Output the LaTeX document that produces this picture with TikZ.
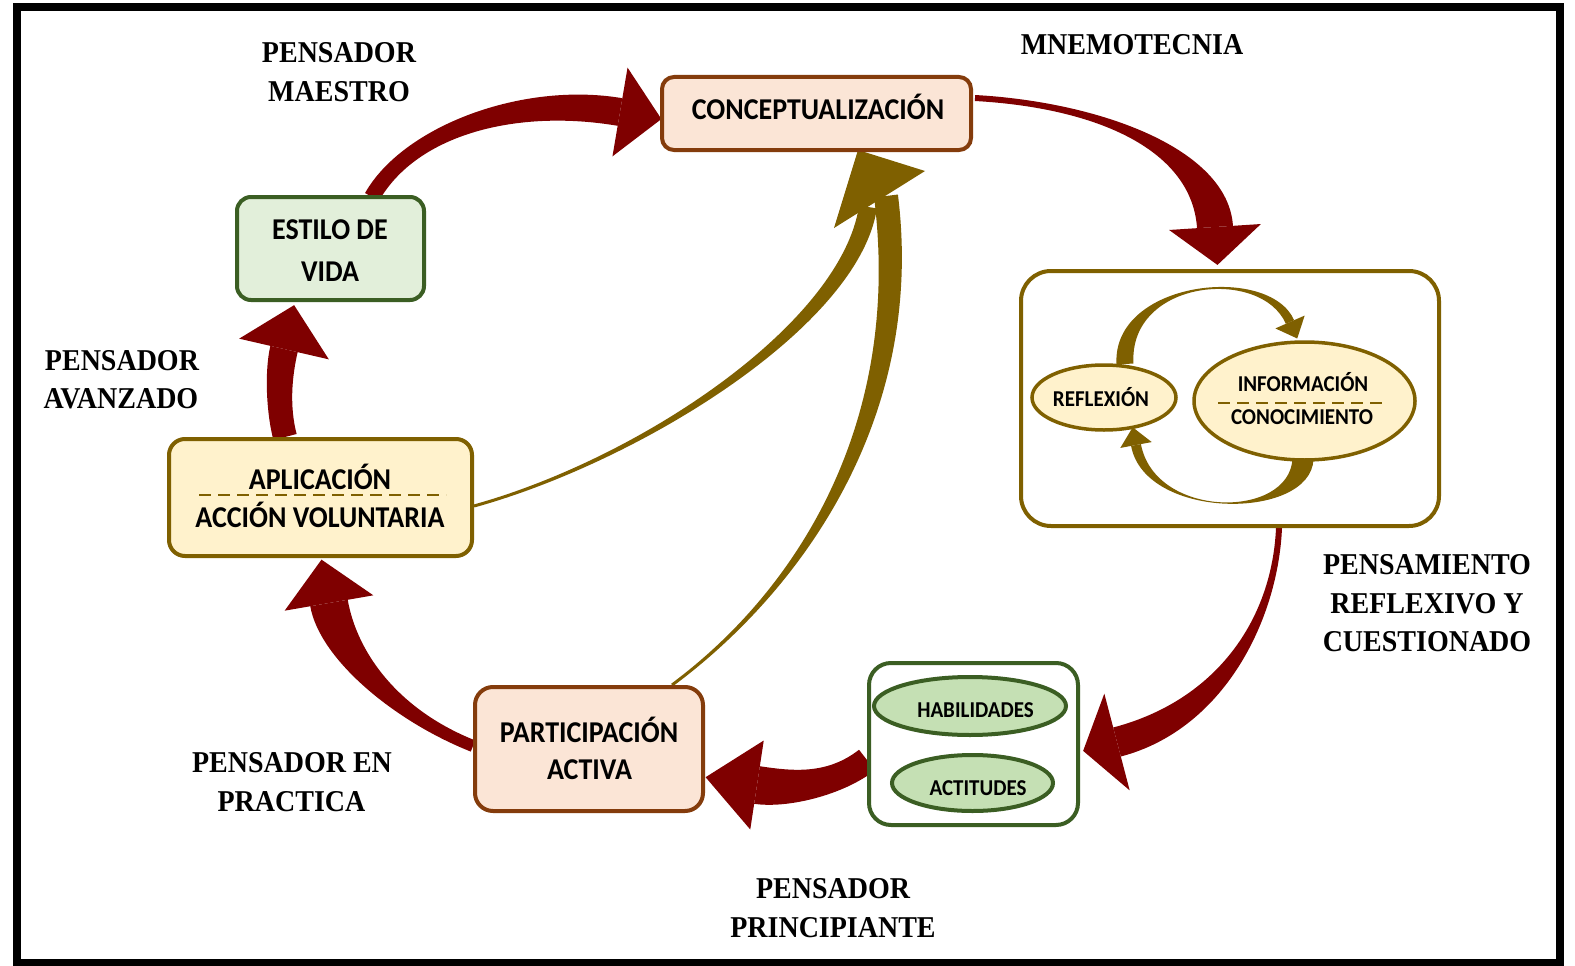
\documentclass[tikz,border=0pt]{standalone}
\usepackage{fontspec}
\usetikzlibrary{calc,shapes.geometric}
\newfontfamily\tnrfont{Liberation Serif}
\newfontfamily\calfont{Carlito}
\definecolor{dred}{HTML}{7F0000}
\definecolor{oliv}{HTML}{7F6000}
\definecolor{peach}{HTML}{FBE5D6}
\definecolor{brn}{HTML}{843C0C}
\definecolor{lgreen}{HTML}{E2EFDA}
\definecolor{dgreen}{HTML}{3B5E23}
\definecolor{lyellow}{HTML}{FFF2CC}
\definecolor{mgreen}{HTML}{C5E0B4}
\pgfdeclarelayer{bg}
\pgfsetlayers{bg,main}
% tapered shaft along a cubic Bezier: P0 P1 P2 P3, half width start, half width end, colour
\newcommand{\taper}[7]{%
 \fill[#7] ($(#1)!#5!90:(#2)$) .. controls ($(#2)!#5!-90:(#1)$) and ($(#3)!#6!90:(#4)$) .. ($(#4)!#6!-90:(#3)$)
 -- ($(#4)!#6!90:(#3)$) .. controls ($(#3)!#6!-90:(#4)$) and ($(#2)!#5!90:(#1)$) .. ($(#1)!#5!-90:(#2)$) -- cycle;}
% arrow head at P3 pointing away from P2: P2 P3 half width length colour
\newcommand{\ahead}[5]{%
 \fill[#5] ($(#2)!#3!90:(#1)$) -- ($(#2)!#4!180:(#1)$) -- ($(#2)!#3!-90:(#1)$) -- cycle;}
\newcommand{\vs}[1]{\scalebox{1}[1.08]{#1}}
\tikzset{
 box/.style={draw, rounded corners=#1, line width=4pt, inner sep=0pt},
 ell/.style={draw, ellipse, line width=4pt, inner sep=0pt},
 lbl/.style={font=\tnrfont\bfseries\fontsize{28}{30}\selectfont, anchor=base, inner sep=0pt},
 btxt/.style={font=\calfont\bfseries\fontsize{28}{30}\selectfont, anchor=base, inner sep=0pt},
 stxt/.style={font=\calfont\bfseries\fontsize{21}{23}\selectfont, anchor=base, inner sep=0pt},
 sep/.style={draw=oliv, line width=2.5pt, dash pattern=on 12pt off 7pt}
}
\begin{document}
\begin{tikzpicture}[x=1pt,y=-1pt]
\useasboundingbox (0,0) rectangle (1575,966);
\draw[line width=8pt] (16.5,7) rectangle (1559.5,963);

% boxes
\node[box=12pt, draw=brn, fill=peach, minimum width=309pt, minimum height=73pt] (concept) at (816.5,113.5) {};
\node[box=14pt, draw=dgreen, fill=lgreen, minimum width=187pt, minimum height=103pt] (estilo) at (330.5,248.5) {};
\node[box=16pt, draw=oliv, fill=lyellow, minimum width=303pt, minimum height=117pt] (aplic) at (320.5,497.5) {};
\node[box=18pt, draw=brn, fill=peach, minimum width=228pt, minimum height=124pt] (partic) at (589,749) {};
\node[box=22pt, draw=dgreen, fill=white, minimum width=209pt, minimum height=162pt] (grp) at (973.5,744) {};
\node[box=30pt, draw=oliv, minimum width=418pt, minimum height=255pt] (refbox) at (1230,398.5) {};

% coordinates of the big arrows
\coordinate (a1p0) at (372,197); \coordinate (a1p1) at (410,130); \coordinate (a1p2) at (520,95); \coordinate (a1p3) at (620,112);
\coordinate (a2p0) at (975,98); \coordinate (a2p1) at (1100,105); \coordinate (a2p2) at (1210,150); \coordinate (a2p3) at (1215,227);
\coordinate (a3p0) at (1279,528); \coordinate (a3p1) at (1275,620); \coordinate (a3p2) at (1220,715); \coordinate (a3p3) at (1117,742);
\coordinate (a4p0) at (867,760); \coordinate (a4p1) at (835,785); \coordinate (a4p2) at (790,790); \coordinate (a4p3) at (757,785);
\coordinate (a5p0) at (473,746); \coordinate (a5p1) at (395,715); \coordinate (a5p2) at (338,655); \coordinate (a5p3) at (329,603);
\coordinate (a6p0) at (285,437); \coordinate (a6p1) at (278,410); \coordinate (a6p2) at (278,375); \coordinate (a6p3) at (284,349);
\coordinate (b1p0) at (474,506); \coordinate (b1p1) at (640,460); \coordinate (b1p2) at (850,325); \coordinate (b1p3) at (868,207);
\coordinate (b2p0) at (672,685); \coordinate (b2p1) at (800,590); \coordinate (b2p2) at (914,420); \coordinate (b2p3) at (886,196);
\coordinate (oht) at (858,150); \coordinate (ohr) at (925,171); \coordinate (ohl) at (834,228);

\begin{pgfonlayer}{bg}
\fill[white] (0,0) rectangle (1575,966);
\taper{a1p0}{a1p1}{a1p2}{a1p3}{8pt}{14pt}{dred}
\ahead{a1p2}{a1p3}{45pt}{42pt}{dred}
\taper{a2p0}{a2p1}{a2p2}{a2p3}{3pt}{18pt}{dred}
\ahead{a2p2}{a2p3}{46pt}{38pt}{dred}
\taper{a3p0}{a3p1}{a3p2}{a3p3}{3pt}{15pt}{dred}
\ahead{a3p2}{a3p3}{50pt}{35pt}{dred}
\taper{a4p0}{a4p1}{a4p2}{a4p3}{13pt}{19pt}{dred}
\ahead{a4p2}{a4p3}{45pt}{52pt}{dred}
\taper{a5p0}{a5p1}{a5p2}{a5p3}{6pt}{19pt}{dred}
\ahead{a5p2}{a5p3}{45pt}{44pt}{dred}
\taper{a6p0}{a6p1}{a6p2}{a6p3}{12pt}{14pt}{dred}
\ahead{a6p2}{a6p3}{46pt}{45pt}{dred}
\taper{b1p0}{b1p1}{b1p2}{b1p3}{1.5pt}{9pt}{oliv}
\taper{b2p0}{b2p1}{b2p2}{b2p3}{1.5pt}{12pt}{oliv}
\fill[oliv] (oht) -- (ohr) -- (ohl) -- cycle;
\end{pgfonlayer}

% inner cycle arrows
\coordinate (c1p0) at (1125,364); \coordinate (c1p1) at (1120,280); \coordinate (c1p2) at (1265,265); \coordinate (c1p3) at (1290,322);
\coordinate (c2p0) at (1303,459); \coordinate (c2p1) at (1300,520); \coordinate (c2p2) at (1150,520); \coordinate (c2p3) at (1136,445);
\taper{c1p0}{c1p1}{c1p2}{c1p3}{8.5pt}{4.5pt}{oliv}
\ahead{c1p2}{c1p3}{16pt}{18pt}{oliv}
\taper{c2p0}{c2p1}{c2p2}{c2p3}{10.5pt}{5pt}{oliv}
\ahead{c2p2}{c2p3}{16pt}{18pt}{oliv}

% ellipses
\node[ell, draw=dgreen, fill=mgreen, minimum width=192pt, minimum height=58pt] (habil) at (970,706) {};
\node[ell, draw=dgreen, fill=mgreen, minimum width=161pt, minimum height=56pt] (actit) at (972.5,783) {};
\node[ell, draw=oliv, fill=lyellow, line width=3.5pt, minimum width=144pt, minimum height=65pt] (reflex) at (1104,397.5) {};
\node[ell, draw=oliv, fill=lyellow, line width=3.5pt, minimum width=221pt, minimum height=118pt] (inform) at (1304.5,401) {};

% box texts
\node[btxt] (t-concept) at (818,119) {\vs{CONCEPTUALIZACIÓN}};
\node[btxt] (t-estilo1) at (330,239) {\vs{ESTILO DE}};
\node[btxt] (t-estilo2) at (330,281) {\vs{VIDA}};
\node[btxt] (t-aplic1) at (320,489) {\vs{APLICACIÓN}};
\node[btxt] (t-aplic2) at (320,527) {\vs{ACCIÓN VOLUNTARIA}};
\node[btxt] (t-partic1) at (589,742) {\vs{PARTICIPACIÓN}};
\node[btxt] (t-partic2) at (589.5,779) {\vs{ACTIVA}};
\node[stxt] (t-habil) at (975.5,717) {\vs{HABILIDADES}};
\node[stxt] (t-actit) at (978,795) {\vs{ACTITUDES}};
\node[stxt] (t-reflex) at (1101,406) {\vs{REFLEXIÓN}};
\node[stxt] (t-inform) at (1303,391) {\vs{INFORMACIÓN}};
\node[stxt] (t-conoc) at (1302,424) {\vs{CONOCIMIENTO}};
\draw[sep] (199,495) -- (446,495);
\draw[sep] (1218,403) -- (1388,403);

% labels
\node[lbl] (l-mae1) at (339,63) {\vs{PENSADOR}};
\node[lbl] (l-mae2) at (339,102) {\vs{MAESTRO}};
\node[lbl] (l-mne) at (1132,55) {\vs{MNEMOTECNIA}};
\node[lbl] (l-ava1) at (122,370) {\vs{PENSADOR}};
\node[lbl] (l-ava2) at (121,408) {\vs{AVANZADO}};
\node[lbl] (l-ref1) at (1427,574) {\vs{PENSAMIENTO}};
\node[lbl] (l-ref2) at (1427,613) {\vs{REFLEXIVO Y}};
\node[lbl] (l-ref3) at (1427,651) {\vs{CUESTIONADO}};
\node[lbl] (l-pra1) at (292,772) {\vs{PENSADOR EN}};
\node[lbl] (l-pra2) at (291.5,811) {\vs{PRACTICA}};
\node[lbl] (l-pri1) at (833,898) {\vs{PENSADOR}};
\node[lbl] (l-pri2) at (833,937) {\vs{PRINCIPIANTE}};
\end{tikzpicture}
\end{document}
